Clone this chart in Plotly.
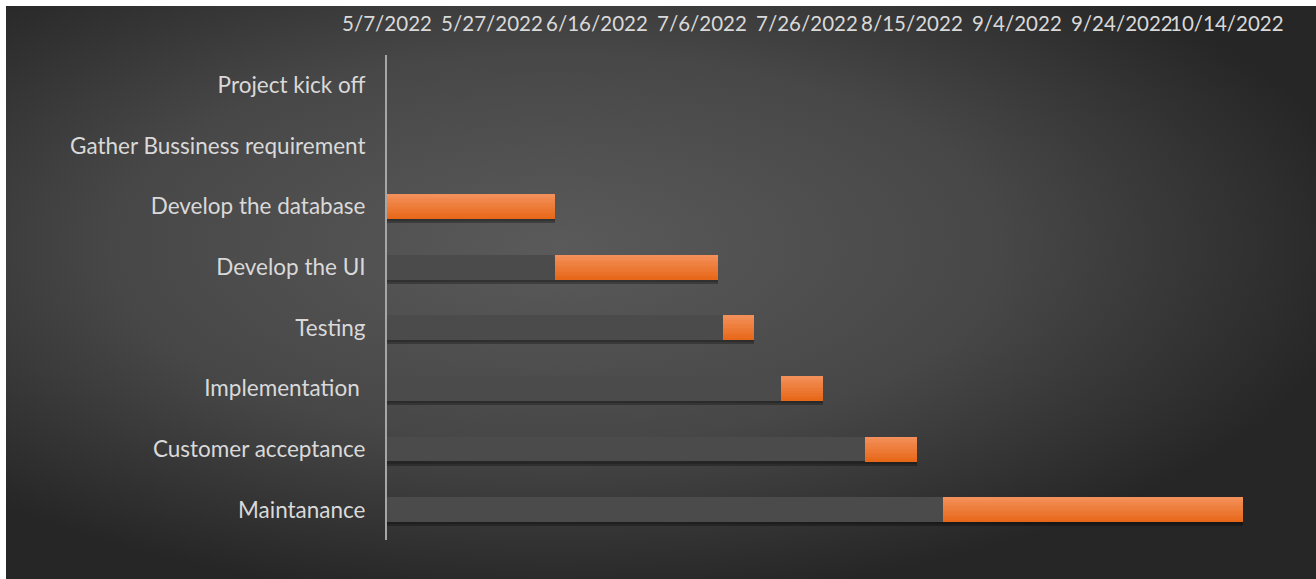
import plotly.graph_objects as go
import pandas as pd

# ---------------- data ----------------
tasks = ["Project kick off", "Gather Bussiness requirement", "Develop the database",
         "Develop the UI", "Testing", "Implementation\u00a0", "Customer acceptance", "Maintanance"]
start_dates = ["2022-05-07", "2022-05-07", "2022-05-07", "2022-06-08",
               "2022-07-10", "2022-07-21", "2022-08-06", "2022-08-21"]
durations_days = [0, 0, 32, 31, 6, 8, 10, 57]
axis_start = "2022-05-07"
axis_end = "2022-10-18 10:00"
tick_dates = ["2022-05-07", "2022-05-27", "2022-06-16", "2022-07-06", "2022-07-26",
              "2022-08-15", "2022-09-04", "2022-09-24", "2022-10-14"]
tick_labels = ["5/7/2022", "5/27/2022", "6/16/2022", "7/6/2022", "7/26/2022",
               "8/15/2022", "9/4/2022", "9/24/2022", "10/14/2022"]

# ---------------- layout constants ----------------
W, H = 1316, 579
ML, MR, MT, MB = 387, 66, 55, 39
PW, PH = W - ML - MR, H - MT - MB
DAY_MS = 86400000
BAR_W = 0.41
FONT = "Lato, 'Open Sans', sans-serif"
FS = 22.5
FSX = 20.5
TXT = "#d9d9d9"

t0 = pd.Timestamp(axis_start)
starts = [pd.Timestamp(s) for s in start_dates]
pre_ms = [(s - t0).total_seconds() * 1000 for s in starts]
dur_ms = [d * DAY_MS for d in durations_days]

fig = go.Figure()

# shadows
fig.add_trace(go.Bar(
    y=tasks, x=[p + d for p, d in zip(pre_ms, dur_ms)], base=[axis_start] * len(tasks),
    orientation="h", width=BAR_W, offset=-BAR_W / 2 + 0.07,
    marker=dict(color="rgba(0,0,0,0.28)", line=dict(width=0)),
    hoverinfo="skip", showlegend=False))
fig.add_trace(go.Bar(
    y=tasks, x=[p + d for p, d in zip(pre_ms, dur_ms)], base=[axis_start] * len(tasks),
    orientation="h", width=BAR_W, offset=-BAR_W / 2 + 0.035,
    marker=dict(color="rgba(0,0,0,0.18)", line=dict(width=0)),
    hoverinfo="skip", showlegend=False))

# dark "start" bars
fig.add_trace(go.Bar(
    y=tasks, x=pre_ms, base=[axis_start] * len(tasks), orientation="h",
    width=BAR_W, offset=-BAR_W / 2,
    marker=dict(color="#4b4b4b", line=dict(width=0)),
    hoverinfo="skip", showlegend=False))

# orange duration bars, drawn in horizontal bands to mimic the gradient
top_c = (243, 143, 88)
bot_c = (232, 104, 26)
N = 10
for i in range(N):
    f = i / (N - 1)
    c = tuple(round(top_c[k] + (bot_c[k] - top_c[k]) * f) for k in range(3))
    fig.add_trace(go.Bar(
        y=tasks, x=dur_ms, base=start_dates, orientation="h",
        width=BAR_W / N + 0.002, offset=-BAR_W / 2 + i * BAR_W / N,
        marker=dict(color="rgb(%d,%d,%d)" % c, line=dict(width=0)),
        hoverinfo="skip", showlegend=False))

# background: radial gradient panel with white margin at top/left
svg = ("<svg xmlns='http://www.w3.org/2000/svg' width='1310' height='573'>"
       "<defs><radialGradient id='g' cx='0.42' cy='0.42' r='0.62'>"
       "<stop offset='0' stop-color='#5a5a5a'/><stop offset='0.55' stop-color='#474747'/>"
       "<stop offset='1' stop-color='#262626'/></radialGradient></defs>"
       "<rect width='1310' height='573' fill='url(#g)'/></svg>")
src = "data:image/svg+xml;charset=utf-8," + svg.replace("<", "%3C").replace(">", "%3E").replace("#", "%23")

fig.update_layout(
    width=W, height=H,
    margin=dict(l=ML, r=MR, t=MT, b=MB, pad=0),
    paper_bgcolor="white", plot_bgcolor="rgba(0,0,0,0)",
    barmode="overlay", bargap=0,
    font=dict(family=FONT, size=FS, color=TXT),
    images=[dict(source=src, xref="paper", yref="paper",
                 x=(6 - ML) / PW, y=(H - MB - 6) / PH,
                 sizex=(W - 6) / PW, sizey=(H - 6) / PH,
                 xanchor="left", yanchor="top", sizing="stretch", layer="below")],
    xaxis=dict(type="date", side="top", range=[axis_start, axis_end],
               tickvals=tick_dates, ticktext=tick_labels, tickangle=0, automargin=False,
               showgrid=False, zeroline=False, showline=False, ticks="",
               ticklabelstandoff=19, tickfont=dict(size=FSX, color=TXT, family=FONT)),
    yaxis=dict(autorange="reversed", showgrid=False, zeroline=False, automargin=False,
               showline=True, linecolor="#a6a6a6", linewidth=2, ticks="",
               ticklabelstandoff=15, tickfont=dict(size=FS, color=TXT, family=FONT)),
)

fig.write_html("out.html")
